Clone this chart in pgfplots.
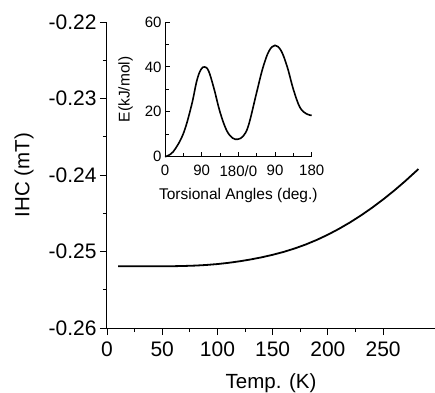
\documentclass[border=0pt]{standalone}
\usepackage{fontspec}
\setmainfont{Liberation Sans}
\usepackage{pgfplots}
\pgfplotsset{compat=1.18}
\begin{document}
\begin{tikzpicture}
\begin{axis}[name=main, scale only axis, width=328pt, height=306pt,
  xmin=0, xmax=297, ymin=-0.26, ymax=-0.22,
  axis lines=left, axis line style={-, line width=1pt},
  xtick={0,50,...,250},
  ytick={-0.26,-0.25,-0.24,-0.23,-0.22},
  yticklabels={-0.26,-0.25,-0.24,-0.23,-0.22},
  minor x tick num=1, minor y tick num=1,
  tick align=outside, major tick length=7pt, minor tick length=4pt,
  every tick/.style={line width=0.9pt,black},
  tick label style={font=\fontsize{21}{25}\selectfont},
  xticklabel style={yshift=-3pt},
  label style={font=\fontsize{20.5}{24}\selectfont},
  xlabel={Temp. (K)}, ylabel={IHC (mT)},
  xlabel style={yshift=-10pt},
  ylabel style={yshift=8pt},
  /pgf/number format/assume math mode=true, clip=false]
\addplot[black, line width=1.8pt] coordinates {
(10,-0.25194) (50,-0.25193) (60,-0.25192) (70,-0.25189) (80,-0.25184)
(90,-0.25176) (100,-0.25164) (110,-0.25148) (120,-0.25128) (130,-0.25104)
(140,-0.25076) (150,-0.25043) (160,-0.25005) (170,-0.24960) (180,-0.24908)
(190,-0.24848) (200,-0.24780) (210,-0.24704) (220,-0.24620) (230,-0.24528)
(240,-0.24428) (250,-0.24320) (260,-0.24204) (270,-0.24080) (282,-0.23922)};
\end{axis}
\coordinate (insetpos) at ([xshift=58pt,yshift=171.3pt]main.south west);
\begin{axis}[at={(insetpos)}, anchor=south west,
  scale only axis, width=146.7pt, height=134.7pt,
  xmin=0, xmax=360, ymin=0, ymax=60,
  axis lines=left, axis line style={-, line width=1pt},
  xtick={0,90,180,270,360}, xticklabels={0,90,180/0,90,180},
  ytick={0,20,40,60},
  minor x tick num=1, minor y tick num=1,
  tick align=inside, major tick length=5pt, minor tick length=4pt,
  every tick/.style={line width=0.9pt,black},
  tick label style={font=\fontsize{15}{18}\selectfont},
  xticklabel style={yshift=-5pt},
  label style={font=\fontsize{15.5}{18}\selectfont},
  xlabel={Torsional Angles (deg.)}, ylabel={E(kJ/mol)},
  xlabel style={yshift=-5pt},
  ylabel style={yshift=5pt},
  /pgf/number format/assume math mode=true, clip=false]
\addplot[black, line width=1.6pt, smooth, tension=0.6] coordinates {
(0,0) (20,2.2) (45,10.3) (65,22.8) (78,33.8) (88,38.8) (97,40) (107,38.2)
(120,30.5) (135,19.9) (151,11.8) (166,8.3) (179,7.8) (192,9.2) (205,14)
(225,28.7) (240,39.5) (255,47) (270,49.6) (285,47.2) (300,40) (315,30)
(331,22) (347,19.1) (360,18.4)};
\end{axis}
\pgfresetboundingbox
\path ([xshift=-107pt,yshift=-64pt]main.south west) rectangle ([yshift=22pt]main.north east);
\end{tikzpicture}
\end{document}
